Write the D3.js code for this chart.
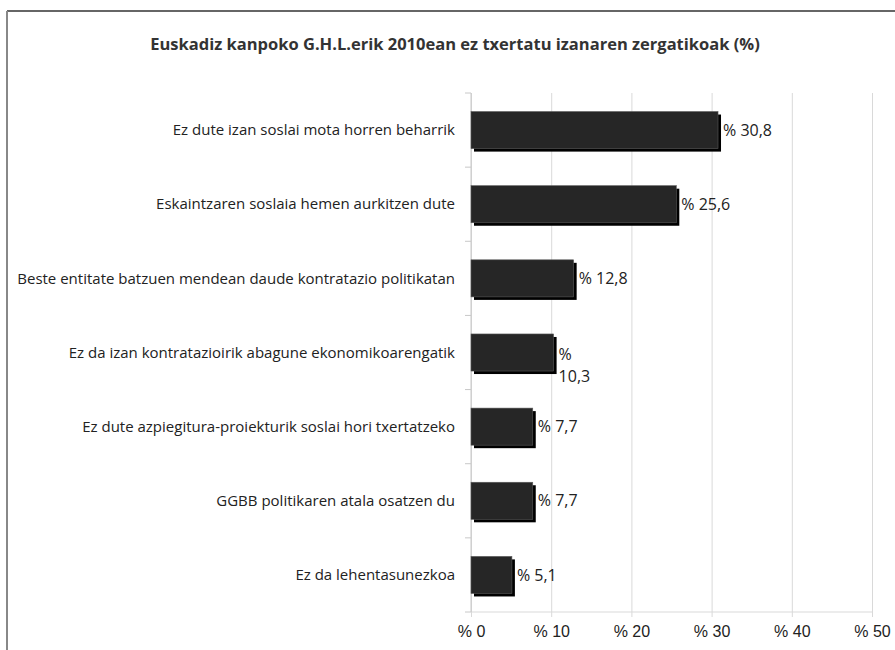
<!DOCTYPE html>
<html>
<head>
<meta charset="utf-8">
<script src="https://cdn.jsdelivr.net/npm/d3@7"></script>
<style>
  html, body { margin: 0; padding: 0; background: #fff; }
  #chart { position: absolute; left: 0; top: 0; overflow: visible; font-family: "Open Sans", sans-serif; }
  .grid line { stroke: #d9d9d9; }
  .grid .domain { display: none; }
  .cat text { fill: #222; font-size: 15px; }
  .xaxis text { fill: #222; font-size: 16px; }
</style>
</head>
<body>
<svg id="chart"></svg>
<script>
const categories = [
  'Ez dute izan soslai mota horren beharrik',
  'Eskaintzaren soslaia hemen aurkitzen dute',
  'Beste entitate batzuen mendean daude kontratazio politikatan',
  'Ez da izan kontratazioirik abagune ekonomikoarengatik',
  'Ez dute azpiegitura-proiekturik soslai hori txertatzeko',
  'GGBB politikaren atala osatzen du',
  'Ez da lehentasunezkoa'
]
const values = [30.8, 25.6, 12.8, 10.3, 7.7, 7.7, 5.1]
const valueLabels = ['% 30,8', '% 25,6', '% 12,8', '%\n10,3', '% 7,7', '% 7,7', '% 5,1']
const xTicks = [0, 10, 20, 30, 40, 50]
const title = 'Euskadiz kanpoko G.H.L.erik 2010ean ez txertatu izanaren zergatikoak (%)'

const width = 895, height = 650
const margin = { top: 93, right: 23, bottom: 38, left: 471 }
const innerWidth = width - margin.left - margin.right
const innerHeight = height - margin.top - margin.bottom

const svg = d3.select('svg#chart')
  .attr('viewBox', [0, 0, width, height])
  .attr('width', width)
  .attr('height', height)

// frame (only top + left show in the crop)
svg.append('line')
  .attr('x1', 7).attr('x2', width).attr('y1', 11).attr('y2', 11)
  .attr('stroke', '#333').attr('stroke-width', 1.5)
svg.append('line')
  .attr('x1', 7).attr('x2', 7).attr('y1', 11).attr('y2', height)
  .attr('stroke', '#888').attr('stroke-width', 2)

svg.append('text')
  .attr('x', 455)
  .attr('y', 50)
  .attr('text-anchor', 'middle')
  .attr('font-size', '16.5px')
  .attr('font-weight', 'bold')
  .attr('fill', '#333')
  .text(title)

const xScale = d3.scaleLinear()
  .domain([0, 50])
  .range([0, 401])

const yScale = d3.scaleBand()
  .domain(categories)
  .range([0, innerHeight])
  .paddingInner(0.5)
  .paddingOuter(0.25)

const g = svg.append('g')
  .attr('transform', `translate(${margin.left}, ${margin.top})`)

// gridlines
g.append('g')
  .attr('class', 'grid')
  .call(d3.axisBottom(xScale).tickValues(xTicks).tickSize(innerHeight + 5).tickFormat(''))
  .selectAll('line')
  .attr('y1', 0)

g.append('line')
  .attr('x1', 0).attr('x2', xScale(50))
  .attr('y1', innerHeight).attr('y2', innerHeight)
  .attr('stroke', '#d9d9d9')

g.append('line')
  .attr('x1', 0).attr('x2', 0)
  .attr('y1', 0).attr('y2', innerHeight)
  .attr('stroke', '#c8c8c8')

// small ticks between the bands
const step = yScale.step()
g.selectAll('.ytick').data(d3.range(categories.length + 1))
  .enter().append('line')
  .attr('class', 'ytick')
  .attr('x1', -6).attr('x2', 0)
  .attr('y1', i => i * step)
  .attr('y2', i => i * step)
  .attr('stroke', '#c8c8c8')

const xAxisG = g.append('g')
  .attr('class', 'xaxis')
  .attr('transform', `translate(0, ${innerHeight})`)
  .call(d3.axisBottom(xScale).tickValues(xTicks).tickSize(0).tickPadding(14).tickFormat(d => '% ' + d))
xAxisG.select('.domain').remove()

g.append('g').attr('class', 'cat')
  .selectAll('text').data(categories)
  .enter().append('text')
  .attr('x', -16)
  .attr('y', d => yScale(d) + yScale.bandwidth() / 2)
  .attr('dy', '0.35em')
  .attr('text-anchor', 'end')
  .text(d => d)

const data = categories.map((c, i) => ({ cat: c, value: values[i], label: valueLabels[i] }))

// drop shadow behind each bar
g.selectAll('.shadow').data(data)
  .enter().append('rect')
  .attr('class', 'shadow')
  .attr('x', 3)
  .attr('y', d => yScale(d.cat) + 3)
  .attr('width', d => xScale(d.value))
  .attr('height', yScale.bandwidth())
  .attr('fill', '#000')

g.selectAll('.bar').data(data)
  .enter().append('rect')
  .attr('class', 'bar')
  .attr('x', 0)
  .attr('y', d => yScale(d.cat))
  .attr('width', d => xScale(d.value))
  .attr('height', yScale.bandwidth())
  .attr('fill', '#262626')
  .attr('stroke', '#5a5a5a')
  .attr('stroke-width', 0.6)

const labels = g.selectAll('.vlabel').data(data)
  .enter().append('text')
  .attr('class', 'vlabel')
  .attr('y', d => yScale(d.cat) + yScale.bandwidth() / 2)
  .attr('font-size', '16px')
  .attr('fill', '#222')

labels.each(function (d) {
  const lines = d.label.split('\n')
  const t = d3.select(this)
  lines.forEach((l, k) => {
    t.append('tspan')
      .attr('x', xScale(d.value) + 5)
      .attr('dy', k === 0 ? (lines.length > 1 ? '0.45em' : '0.35em') : '1.4em')
      .text(l)
  })
})
</script>
</body>
</html>
